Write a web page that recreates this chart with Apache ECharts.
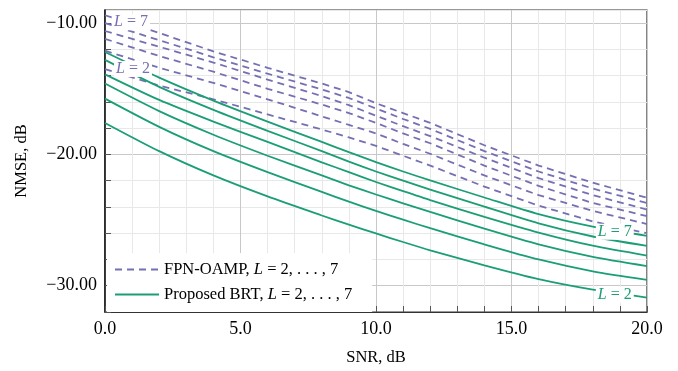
<!DOCTYPE html>
<html>
<head>
<meta charset="utf-8">
<script src="https://cdn.jsdelivr.net/npm/echarts@6/dist/echarts.min.js"></script>
<style>
  html, body { margin: 0; padding: 0; background: #fff; }
  #main { width: 678px; height: 371px; }
</style>
</head>
<body>
<div id="main"></div>
<script>
// SNR points (dB)
var snr = [0, 2, 4, 6, 8, 9, 10, 11, 12, 14, 16, 18, 20];

// FPN-OAMP (dashed), L = 2..7
var oampL2 = [-13.5, -14.75, -15.8, -16.95, -18.1, -18.7, -19.35, -20.1, -20.85, -22.45, -23.9, -25.1, -26.0];
var oampL3 = [-12.1, -13.4, -14.55, -15.8, -17.1, -17.75, -18.4, -19.2, -19.95, -21.6, -23.1, -24.3, -25.3];
var oampL4 = [-11.2, -12.5, -13.7, -15.0, -16.2, -16.85, -17.6, -18.4, -19.15, -20.85, -22.4, -23.7, -24.7];
var oampL5 = [-10.6, -11.8, -13.0, -14.3, -15.55, -16.25, -17.05, -17.85, -18.6, -20.25, -21.8, -23.1, -24.2];
var oampL6 = [-10.0, -11.3, -12.6, -13.85, -15.05, -15.7, -16.5, -17.3, -18.05, -19.75, -21.3, -22.6, -23.7];
var oampL7 = [-9.4, -10.75, -12.15, -13.4, -14.6, -15.25, -16.1, -16.85, -17.6, -19.3, -20.85, -22.15, -23.3];

// Proposed BRT (solid), L = 2..7
var brtL2 = [-17.6, -19.75, -21.6, -23.2, -24.65, -25.35, -26.02, -26.67, -27.3, -28.45, -29.5, -30.3, -30.9];
var brtL3 = [-15.75, -17.9, -19.75, -21.35, -22.85, -23.6, -24.3, -24.97, -25.62, -26.85, -28.0, -28.9, -29.55];
var brtL4 = [-14.6, -16.7, -18.5, -20.1, -21.6, -22.35, -23.05, -23.72, -24.38, -25.65, -26.85, -27.8, -28.5];
var brtL5 = [-13.9, -15.85, -17.5, -19.05, -20.6, -21.35, -22.1, -22.8, -23.48, -24.75, -25.95, -26.95, -27.7];
var brtL6 = [-12.8, -14.85, -16.6, -18.2, -19.75, -20.55, -21.3, -22.0, -22.68, -23.98, -25.25, -26.25, -26.97];
var brtL7 = [-12.2, -14.15, -15.9, -17.5, -19.05, -19.83, -20.58, -21.3, -21.98, -23.28, -24.55, -25.5, -26.2];

var oampName = 'FPN-OAMP, L = 2, . . . , 7';
var brtName = 'Proposed BRT, L = 2, . . . , 7';
var purple = '#7570b3';
var green = '#1b9e77';
var serif = 'Liberation Serif';

function pairs(ys) {
    return snr.map(function (x, i) { return [x, ys[i]]; });
}

function curveLabel(text, color, coord, offset) {
    return {
        symbol: 'rect',
        symbolSize: 0,
        silent: true,
        data: [{
            coord: coord,
            label: {
                show: true,
                position: 'inside',
                offset: offset,
                formatter: '{i|L}{t| = ' + text + '}',
                backgroundColor: '#fff',
                padding: [0, 2],
                rich: {
                    i: { fontFamily: serif, fontStyle: 'italic', fontSize: 16, color: color },
                    t: { fontFamily: serif, fontSize: 16, color: color }
                }
            }
        }]
    };
}

function dashed(ys, mp) {
    var s = {
        name: oampName, type: 'line', data: pairs(ys), symbol: 'none',
        lineStyle: { color: purple, width: 1.8, type: [7, 5] },
        itemStyle: { color: purple }
    };
    if (mp) s.markPoint = mp;
    return s;
}

function solid(ys, mp) {
    var s = {
        name: brtName, type: 'line', data: pairs(ys), symbol: 'none',
        smooth: 0.25,
        lineStyle: { color: green, width: 1.8 },
        itemStyle: { color: green }
    };
    if (mp) s.markPoint = mp;
    return s;
}

var last = snr.length - 2; // SNR = 18 dB

var myChart = echarts.init(document.getElementById('main'));

var option = {
    animation: false,
    backgroundColor: '#fff',
    grid: {
        left: 105, right: 31, top: 10, bottom: 53,
        show: true, borderColor: '#333', borderWidth: 1.2
    },
    legend: {
        left: 107, top: 253,
        orient: 'vertical',
        backgroundColor: '#fff',
        padding: [8, 20, 9, 7],
        itemWidth: 44, itemHeight: 14, itemGap: 8,
        itemStyle: { opacity: 0 },
        data: [oampName, brtName],
        formatter: function (name) {
            return name.replace('L', '{i|L}');
        },
        textStyle: {
            fontFamily: serif, fontSize: 16.5, color: '#000',
            rich: { i: { fontFamily: serif, fontStyle: 'italic', fontSize: 16.5, color: '#000' } }
        }
    },
    xAxis: {
        type: 'value', min: 0, max: 20, interval: 1,
        name: 'SNR, dB', nameLocation: 'middle', nameGap: 37,
        nameTextStyle: { fontFamily: serif, fontSize: 16.5, color: '#000' },
        axisLine: { show: true, lineStyle: { color: '#333', width: 1.2 } },
        axisTick: { show: true, inside: true, length: 6, lineStyle: { color: '#555' } },
        axisLabel: {
            margin: 8, fontFamily: serif, fontSize: 18, color: '#000',
            formatter: function (v) { return v % 5 === 0 ? v.toFixed(1) : ''; }
        },
        splitLine: {
            show: true,
            lineStyle: { color: ['#c8c8c8', '#e8e8e8', '#e8e8e8', '#e8e8e8', '#e8e8e8'], width: 1 }
        }
    },
    yAxis: {
        type: 'value', min: -32, max: -9, interval: 2,
        name: 'NMSE, dB', nameLocation: 'middle', nameGap: 75,
        nameTextStyle: { fontFamily: serif, fontSize: 16.5, color: '#000' },
        axisLine: { show: true, lineStyle: { color: '#111', width: 1.5 } },
        axisTick: { show: true, inside: true, length: 6, lineStyle: { color: '#555' } },
        axisLabel: {
            margin: 8, fontFamily: serif, fontSize: 18, color: '#000',
            showMaxLabel: false,
            formatter: function (v) {
                return v % 10 === 0 ? '\u2212' + Math.abs(v).toFixed(2) : '';
            }
        },
        splitLine: {
            show: true,
            lineStyle: { color: ['#e8e8e8', '#c8c8c8', '#e8e8e8', '#e8e8e8', '#e8e8e8'], width: 1 }
        }
    },
    series: [
        dashed(oampL2, curveLabel('2', purple, [snr[0], oampL2[0]], [28, 0])),
        dashed(oampL3),
        dashed(oampL4),
        dashed(oampL5),
        dashed(oampL6),
        dashed(oampL7, curveLabel('7', purple, [snr[0], oampL7[0]], [26, 7])),
        solid(brtL2, curveLabel('2', green, [snr[last], brtL2[last]], [22, 5])),
        solid(brtL3),
        solid(brtL4),
        solid(brtL5),
        solid(brtL6),
        solid(brtL7, curveLabel('7', green, [snr[last], brtL7[last]], [22, 5]))
    ]
};

myChart.setOption(option);
</script>
</body>
</html>
